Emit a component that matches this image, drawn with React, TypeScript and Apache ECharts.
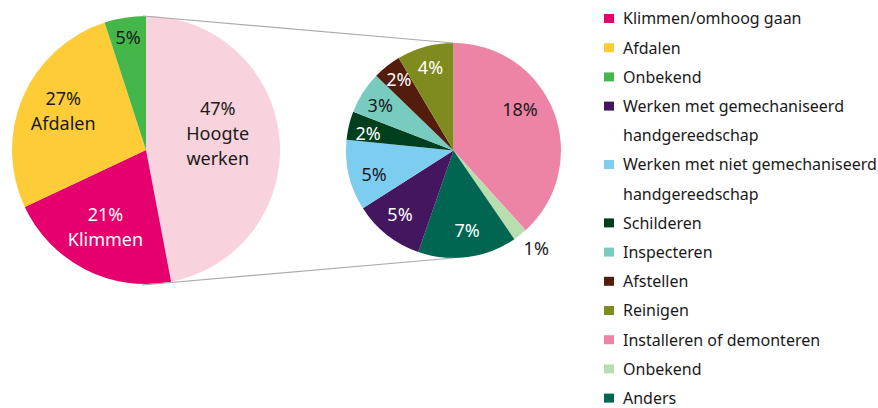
import React, { useEffect, useRef } from "react";
import * as echarts from "echarts";

// ---- data ----
const mainCategories = ["Hoogte werken", "Klimmen/omhoog gaan", "Afdalen", "Onbekend"];
const mainLabelNames = ["Hoogte\nwerken", "Klimmen", "Afdalen", ""];
const mainValues = [47, 21, 27, 5];

const subCategories = [
  "Installeren of demonteren",
  "Onbekend",
  "Anders",
  "Werken met gemechaniseerd handgereedschap",
  "Werken met niet gemechaniseerd handgereedschap",
  "Schilderen",
  "Inspecteren",
  "Afstellen",
  "Reinigen",
];
const subValues = [18, 1, 7, 5, 5, 2, 3, 2, 4];

// legend order: main (except the exploded one), then sub
const legendMainOrder = [1, 2, 3];
const legendSubOrder = [3, 4, 5, 6, 7, 8, 0, 1, 2];
const legendLabels: Record<string, string> = {
  "Werken met gemechaniseerd handgereedschap": "Werken met gemechaniseerd\nhandgereedschap",
  "Werken met niet gemechaniseerd handgereedschap": "Werken met niet gemechaniseerd\nhandgereedschap",
};

// ---- styles ----
const mainColors = ["#F8D2DC", "#E5006E", "#FECC36", "#45B64A"];
const mainLabelColors = ["#1a1a1a", "#ffffff", "#1a1a1a", "#1a1a1a"];
const subColors = ["#EE84A5", "#B8DEB0", "#006652", "#43165F", "#7DCDF0", "#003F1D", "#77CBBF", "#531C0C", "#7F8B1E"];
const subLabelColors = ["#1a1a1a", "#1a1a1a", "#ffffff", "#ffffff", "#1a1a1a", "#ffffff", "#1a1a1a", "#ffffff", "#ffffff"];

// label placement (fraction of radius, angle tweak in degrees)
const mainLabelRadius = [0.55, 0.645, 0.684, 0.855];
const mainLabelAngleShift = [8, -1, -2, 0];
const subLabelRadius = [0.73, 1.19, 0.75, 0.77, 0.77, 0.81, 0.8, 0.84, 0.81];
const subLabelAngleShift = [11, 2, 2, -2, 3, 2, 1, -1, 0];

const FONT = "'Noto Sans', 'Open Sans', sans-serif";
const TEXT = "#1a1a1a";

const L = { cx: 146, cy: 150, r: 134 };
const R = { cx: 453.5, cy: 150.5, r: 107.5 };

function midAngles(values: number[]) {
  const total = values.reduce((a, b) => a + b, 0);
  let acc = 0;
  return values.map((v) => {
    const start = 90 - (acc / total) * 360;
    acc += v;
    const end = 90 - (acc / total) * 360;
    return (start + end) / 2;
  });
}

function makeLayout(pie: { cx: number; cy: number; r: number }, values: number[], radius: number[], shift: number[]) {
  const mids = midAngles(values);
  return (params: any) => {
    const i = params.dataIndex;
    const a = ((mids[i] + shift[i]) * Math.PI) / 180;
    const d = pie.r * radius[i];
    return {
      x: pie.cx + d * Math.cos(a),
      y: pie.cy - d * Math.sin(a),
      align: "center",
      verticalAlign: "middle",
    };
  };
}

export default function App() {
  const ref = useRef<HTMLDivElement>(null);
  useEffect(() => {
    document.body.style.margin = "0";
    if (!ref.current) return;
    const chart = echarts.init(ref.current, null, { renderer: "svg" });

    const legendEntries: { name: string; color: string }[] = [];
    legendMainOrder.forEach((i) => legendEntries.push({ name: mainCategories[i], color: mainColors[i] }));
    legendSubOrder.forEach((i) => legendEntries.push({ name: legendLabels[subCategories[i]] || subCategories[i], color: subColors[i] }));

    const rowH = 29.2;
    const row0 = 18.5;
    const legendGraphics: any[] = [];
    let row = 0;
    legendEntries.forEach((e) => {
      const yc = row0 + row * rowH;
      legendGraphics.push({
        type: "rect",
        shape: { x: 604, y: yc - 4.5, width: 10, height: 9 },
        style: { fill: e.color },
      });
      legendGraphics.push({
        type: "text",
        x: 623,
        y: yc - rowH / 2,
        style: {
          text: e.name,
          fill: TEXT,
          font: `16px ${FONT}`,
          lineHeight: rowH,
          verticalAlign: "top",
          align: "left",
        },
      });
      row += e.name.split("\n").length;
    });

    const lineStyle = { stroke: "#ABABAB", lineWidth: 1.2 };
    const connectors = [
      { type: "line", shape: { x1: L.cx - 3, y1: L.cy - L.r, x2: R.cx, y2: R.cy - R.r }, style: lineStyle, z: 10 },
      { type: "line", shape: { x1: L.cx - 4, y1: L.cy + L.r + 1, x2: R.cx, y2: R.cy + R.r }, style: lineStyle, z: 10 },
    ];

    chart.setOption({
      animation: false,
      backgroundColor: "#ffffff",
      textStyle: { fontFamily: FONT },
      graphic: [...connectors, ...legendGraphics],
      series: [
        {
          type: "pie",
          center: [L.cx, L.cy],
          radius: L.r,
          startAngle: 90,
          clockwise: true,
          avoidLabelOverlap: false,
          silent: true,
          itemStyle: { borderWidth: 0 },
          label: { show: true, position: "inside", fontSize: 18, lineHeight: 25, fontFamily: FONT },
          labelLine: { show: false },
          labelLayout: makeLayout(L, mainValues, mainLabelRadius, mainLabelAngleShift),
          data: mainCategories.map((name, i) => ({
            name,
            value: mainValues[i],
            itemStyle: { color: mainColors[i] },
            label: {
              color: mainLabelColors[i],
              formatter: mainLabelNames[i] ? `${mainValues[i]}%\n${mainLabelNames[i]}` : `${mainValues[i]}%`,
            },
          })),
        },
        {
          type: "pie",
          center: [R.cx, R.cy],
          radius: R.r,
          startAngle: 90,
          clockwise: true,
          avoidLabelOverlap: false,
          silent: true,
          itemStyle: { borderWidth: 0 },
          label: { show: true, position: "inside", fontSize: 18, fontFamily: FONT },
          labelLine: { show: false },
          labelLayout: makeLayout(R, subValues, subLabelRadius, subLabelAngleShift),
          data: subCategories.map((name, i) => ({
            name,
            value: subValues[i],
            itemStyle: { color: subColors[i] },
            label: { color: subLabelColors[i], formatter: `${subValues[i]}%` },
          })),
        },
      ],
    });
    return () => chart.dispose();
  }, []);
  return <div ref={ref} style={{ width: 878, height: 408 }} />;
}
